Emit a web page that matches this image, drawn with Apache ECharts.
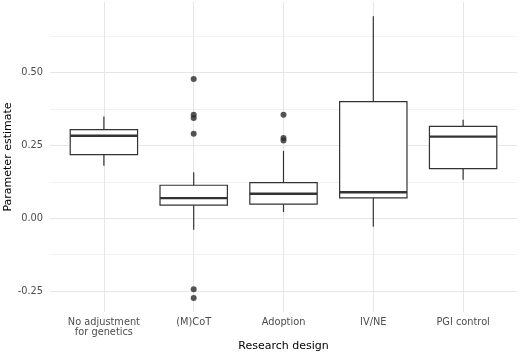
<!DOCTYPE html>
<html>
<head>
<meta charset="utf-8">
<script src="https://cdn.jsdelivr.net/npm/echarts@6/dist/echarts.min.js"></script>
<style>
  html, body { margin: 0; padding: 0; background: #fff; }
  #chart { width: 520px; height: 353px; }
</style>
</head>
<body>
<div id="chart"></div>
<script>
// categories along x
const categories = ["No adjustment\nfor genetics", "(M)CoT", "Adoption", "IV/NE", "PGI control"];
// box statistics
const whiskerLow = [0.180, -0.040, 0.021, -0.029, 0.132];
const q1 = [0.218, 0.045, 0.048, 0.070, 0.170];
const median = [0.283, 0.069, 0.084, 0.089, 0.280];
const q3 = [0.304, 0.113, 0.122, 0.400, 0.315];
const whiskerHigh = [0.349, 0.158, 0.231, 0.693, 0.338];
// outlying points per category
const outliers = [
  [],
  [0.478, 0.355, 0.344, 0.290, -0.244, -0.274],
  [0.355, 0.275, 0.267],
  [],
  []
];
const yTicks = [-0.25, 0, 0.25, 0.5];
const yGrid = [-0.25, -0.125, 0, 0.125, 0.25, 0.375, 0.5, 0.625];

const boxData = categories.map((c, i) => [i, whiskerLow[i], q1[i], median[i], q3[i], whiskerHigh[i]]);
const pointData = [];
outliers.forEach((list, i) => list.forEach(v => pointData.push([i, v])));

const lineColor = "#333333";

function renderBox(params, api) {
  const x = api.value(0);
  const lo = api.coord([x, api.value(1)]);
  const b1 = api.coord([x, api.value(2)]);
  const md = api.coord([x, api.value(3)]);
  const b3 = api.coord([x, api.value(4)]);
  const hi = api.coord([x, api.value(5)]);
  const half = api.size([0.75, 0])[0] / 2;
  const thin = { stroke: lineColor, lineWidth: 1.2, fill: null };
  return {
    type: "group",
    children: [
      { type: "line", shape: { x1: lo[0], y1: lo[1], x2: b1[0], y2: b1[1] }, style: thin },
      { type: "line", shape: { x1: b3[0], y1: b3[1], x2: hi[0], y2: hi[1] }, style: thin },
      {
        type: "rect",
        shape: { x: b3[0] - half, y: b3[1], width: half * 2, height: b1[1] - b3[1] },
        style: { fill: "#ffffff", stroke: lineColor, lineWidth: 1.2 }
      },
      {
        type: "line",
        shape: { x1: md[0] - half, y1: md[1], x2: md[0] + half, y2: md[1] },
        style: { stroke: lineColor, lineWidth: 2.4 }
      }
    ]
  };
}

const chart = echarts.init(document.getElementById("chart"));
chart.setOption({
  animation: false,
  backgroundColor: "#ffffff",
  textStyle: { fontFamily: "DejaVu Sans" },
  grid: { left: 50, right: 3, top: 2, bottom: 41, containLabel: false, outerBoundsMode: "none" },
  xAxis: {
    type: "value",
    min: -0.6,
    max: 4.6,
    name: "Research design",
    nameLocation: "middle",
    nameGap: 29,
    nameMoveOverlap: false,
    nameTextStyle: { fontSize: 11, color: "#000000", fontFamily: "DejaVu Sans" },
    axisLine: { show: false },
    axisTick: { show: false, customValues: [0, 1, 2, 3, 4] },
    axisLabel: {
      customValues: [0, 1, 2, 3, 4],
      formatter: v => categories[Math.round(v)],
      fontSize: 9.8,
      lineHeight: 10.5,
      color: "#4d4d4d",
      margin: 5
    },
    splitLine: { show: true, lineStyle: { color: "#e6e6e6", width: 1 } }
  },
  yAxis: {
    type: "value",
    min: -0.322,
    max: 0.742,
    name: "Parameter estimate",
    nameLocation: "middle",
    nameGap: 36,
    nameMoveOverlap: false,
    nameTextStyle: { fontSize: 11, color: "#000000", fontFamily: "DejaVu Sans" },
    axisLine: { show: false },
    axisTick: { show: false, customValues: yGrid },
    axisLabel: {
      customValues: yTicks,
      formatter: v => v.toFixed(2),
      fontSize: 9.8,
      color: "#4d4d4d",
      margin: 7
    },
    splitLine: { show: true, lineStyle: { color: ["#e6e6e6", "#f2f2f2"], width: 1 } }
  },
  series: [
    {
      type: "custom",
      data: boxData,
      renderItem: renderBox,
      encode: { x: 0, y: [1, 2, 3, 4, 5] },
      silent: true,
      z: 2
    },
    {
      type: "scatter",
      data: pointData,
      symbolSize: 6,
      itemStyle: { color: "#2b2b2b" },
      silent: true,
      z: 3
    }
  ]
});
</script>
</body>
</html>
